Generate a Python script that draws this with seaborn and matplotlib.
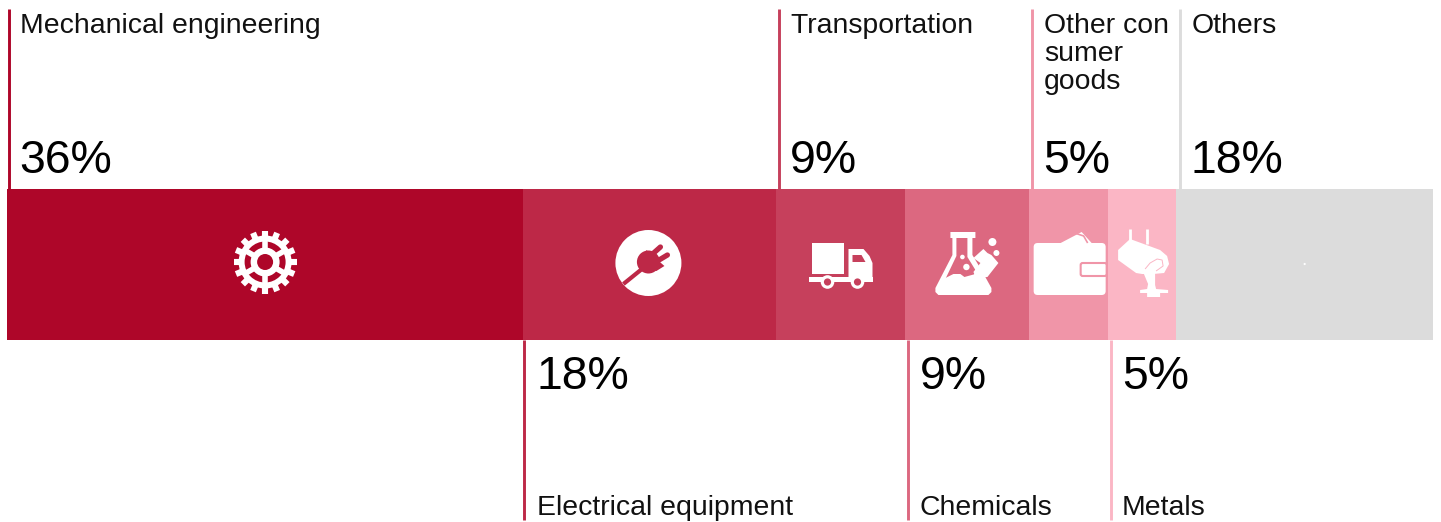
import numpy as np
import pandas as pd
import matplotlib
matplotlib.use("Agg")
import matplotlib.pyplot as plt
from matplotlib.patches import Circle, Polygon, Rectangle, FancyBboxPatch
import seaborn as sns

categories = ["Mechanical engineering", "Electrical equipment", "Transportation",
              "Chemicals", "Other consumer goods", "Metals", "Others"]
shares = [36.2, 17.7, 9.1, 8.7, 5.5, 4.8, 18.0]
percent_labels = ["36%", "18%", "9%", "9%", "5%", "5%", "18%"]
display_names = ["Mechanical engineering", "Electrical equipment", "Transportation",
                 "Chemicals", "Other con\nsumer\ngoods", "Metals", "Others"]
colors = ["#AE0629", "#BD2847", "#C6405C", "#DC6880", "#F095A8", "#FBB6C5", "#DCDCDC"]
sides = ["top", "bottom", "top", "bottom", "top", "bottom", "top"]
leader_offsets = [1.5, 1, 3, 3, 3, 3, 4]
text_gaps = [11.5, 12.5, 11.5, 11.5, 11.5, 11, 11]

W, H = 1441, 522
BAR_L, BAR_R, BAR_T, BAR_B = 7, 1433, 189, 340

sns.set_theme(style="white")
plt.rcParams["font.family"] = ["Liberation Sans", "DejaVu Sans"]
plt.rcParams["text.kerning_factor"] = 6

fig = plt.figure(figsize=(W / 100, H / 100), dpi=100, facecolor="white")
ax = fig.add_axes([BAR_L / W, 1 - BAR_B / H, (BAR_R - BAR_L) / W, (BAR_B - BAR_T) / H])

df = pd.DataFrame({"category": categories, "share": shares})
df["start"] = df["share"].cumsum().shift(fill_value=0)
df["row"] = "Share"
for (_, r), c in zip(df.iterrows(), colors):
    sns.barplot(data=df[df.category == r.category], x="share", y="row", orient="h",
                left=r.start, color=c, saturation=1, width=1, linewidth=0, ax=ax)
total = df["share"].sum()
ax.set_xlim(0, total)
ax.set_ylim(0.5, -0.5)
ax.axis("off")

ov = fig.add_axes([0, 0, 1, 1], facecolor="none")
ov.set_xlim(0, W)
ov.set_ylim(H, 0)
ov.axis("off")


def to_px(v):
    return BAR_L + (BAR_R - BAR_L) * v / total


LABEL_FS, PCT_FS = 20.4, 33.4
for i, r in df.iterrows():
    x0 = to_px(r.start) + leader_offsets[i]
    c = colors[i]
    tx = x0 + text_gaps[i]
    if sides[i] == "top":
        ov.plot([x0, x0], [9, BAR_T], color=c, lw=2.1, solid_capstyle="butt")
        for k, line in enumerate(display_names[i].split("\n")):
            ov.text(tx, 33 + 28 * k, line, fontsize=LABEL_FS, color="#111111", va="baseline", ha="left")
        ov.text(tx - 0.5, 173, percent_labels[i], fontsize=PCT_FS, color="black", va="baseline", ha="left")
    else:
        ov.plot([x0, x0], [BAR_B, 520], color=c, lw=2.1, solid_capstyle="butt")
        ov.text(tx, 389, percent_labels[i], fontsize=PCT_FS, color="black", va="baseline", ha="left")
        ov.text(tx, 515, display_names[i], fontsize=LABEL_FS, color="#111111", va="baseline", ha="left")

centers = [to_px(s + w / 2) for s, w in zip(df["start"], df["share"])]
CY = 264
WHITE = "white"


def poly(cx, pts, color=WHITE, z=5):
    ov.add_patch(Polygon([(cx + a, CY + b) for a, b in pts], closed=True, fc=color, ec="none",
                         joinstyle="round", zorder=z))


def disc(cx, a, b, rad, color=WHITE, z=5):
    ov.add_patch(Circle((cx + a, CY + b), rad, fc=color, ec="none", zorder=z))


def stroke(cx, pts, color=WHITE, lw=2, z=5, cap="butt"):
    ov.plot([cx + p[0] for p in pts], [CY + p[1] for p in pts], color=color, lw=lw,
            solid_capstyle=cap, solid_joinstyle="round", zorder=z)


def gear(cx, bg):
    a, b = 0, -2
    for ang in np.arange(0, 360, 22.5):
        t = np.radians(ang + 90)
        stroke(cx, [(a + 24 * np.cos(t), b + 24 * np.sin(t)), (a + 31.5 * np.cos(t), b + 31.5 * np.sin(t))], lw=4.4)
    disc(cx, a, b, 26.5)
    disc(cx, a, b, 20.5, bg, 6)
    for ang in (90, 150, 210, 270, 330, 30):
        t = np.radians(ang)
        stroke(cx, [(a, b), (a + 23 * np.cos(t), b + 23 * np.sin(t))], lw=4, z=7)
    disc(cx, a, b, 14.5, WHITE, 8)
    disc(cx, a, b, 8, bg, 9)


def plug(cx, bg):
    disc(cx, -1, -1, 33)
    stroke(cx, [(-26, 20), (-5, 3)], bg, lw=3, z=6)
    disc(cx, -1, -2, 11.5, bg, 6)
    poly(cx, [(-3, -14), (15, 2), (7, 7), (-7, 3)], bg, 6)
    stroke(cx, [(2, -9), (11, -17)], bg, lw=3.8, z=6, cap="round")
    stroke(cx, [(8, -3), (18, -9)], bg, lw=3.8, z=6, cap="round")


def truck(cx, bg):
    ov.add_patch(Rectangle((cx - 28, CY - 21), 32, 31, fc=WHITE, ec="none", zorder=5))
    poly(cx, [(8, -15), (23, -15), (29, -8), (32, -1), (32, 13), (8, 13)])
    poly(cx, [(12, -9), (21, -9), (25, -2), (12, -2)], bg, 6)
    ov.add_patch(Rectangle((cx - 31, CY + 13), 64, 4.5, fc=WHITE, ec="none", zorder=5))
    for a in (-13, 17):
        disc(cx, a, 18, 6.8, WHITE, 6)
        disc(cx, a, 18, 3.6, bg, 7)


def flask(cx, bg):
    poly(cx, [(-17, -32), (8, -32), (8, -26), (5, -26), (5, -9), (14, 6), (24, 24), (24, 28), (21, 31),
              (-29, 31), (-32, 28), (-32, 24), (-15, -9), (-15, -26), (-17, -26)])
    poly(cx, [(-11, -26), (0, -26), (0, -7), (8, 6), (6, 13), (-22, 15), (-11, -8)], bg, 6)
    poly(cx, [(-24, 15), (-14, 10), (-7, 10), (-3, 13), (8, 10), (10, 16), (-26, 20)], WHITE, 7)
    poly(cx, [(6, -6), (16, -15), (20, -11), (24, -9), (31, -1), (20, 13), (9, 14), (6, 8), (13, -1)], WHITE, 7)
    disc(cx, 25, -22, 4, WHITE, 8)
    disc(cx, 29, -11, 3, WHITE, 8)
    disc(cx, -5, -7, 2.3, WHITE, 8)
    disc(cx, -1, 3, 3.2, WHITE, 8)


def wallet(cx, bg):
    poly(cx, [(-8, -21), (13, -32), (23, -21)])
    stroke(cx, [(6, -31), (15, -28), (19, -21)], bg, lw=1.2, z=6)
    ov.add_patch(FancyBboxPatch((cx - 35, CY - 21), 72, 52, boxstyle="round,pad=0,rounding_size=4",
                                fc=WHITE, ec="none", zorder=5))
    ov.add_patch(FancyBboxPatch((cx + 12, CY - 1), 26, 13, boxstyle="round,pad=0,rounding_size=2",
                                fc=WHITE, ec=bg, lw=1.5, zorder=6))


def ladle(cx, bg):
    stroke(cx, [(-12, -35), (-12, -17)], lw=2)
    stroke(cx, [(5, -35), (5, -20)], lw=2)
    poly(cx, [(-24, -14), (-12, -25), (18, -14), (25, -8), (27, 0), (22, 9), (11, 10), (0, 10), (-6, 9), (-24, -4)])
    stroke(cx, [(3, 5), (8, -1), (15, -5), (20, -4), (21, 2), (14, 7)], bg, lw=0.7, z=6)
    poly(cx, [(1, 8), (13, 8), (13, 21), (14, 25), (26, 26), (26, 29), (18, 29), (18, 33), (5, 33), (5, 29), (-2, 29),
              (-2, 26), (5, 25), (6, 20)])


icon_fns = [gear, plug, truck, flask, wallet, ladle]
for fn, cx, c in zip(icon_fns, centers, colors):
    fn(cx, c)
disc(centers[6], 0, 0, 1.1)

fig.savefig("out.png", dpi=100, facecolor="white")
